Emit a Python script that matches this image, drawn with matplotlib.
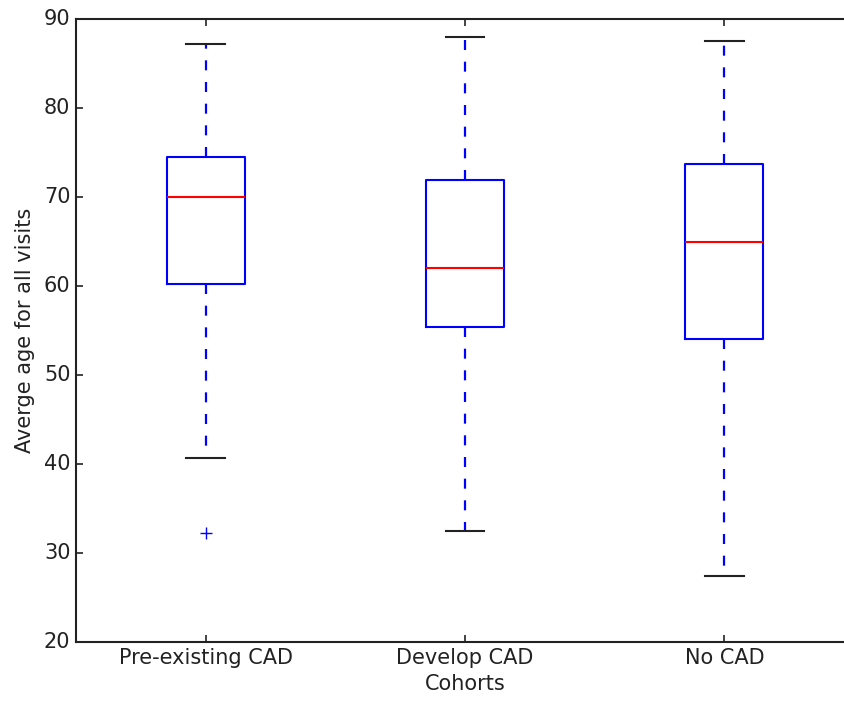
import matplotlib
matplotlib.use("Agg")
import matplotlib.pyplot as plt

plt.style.use('classic')
plt.rcParams['font.size'] = 15
plt.rcParams['text.color'] = '#222222'
plt.rcParams['axes.labelcolor'] = '#222222'
plt.rcParams['xtick.color'] = '#222222'
plt.rcParams['ytick.color'] = '#222222'
plt.rcParams['axes.edgecolor'] = '#222222'
plt.rcParams['axes.linewidth'] = 1.5
plt.rcParams['xtick.major.size'] = 5
plt.rcParams['ytick.major.size'] = 5
plt.rcParams['xtick.major.width'] = 1.2
plt.rcParams['ytick.major.width'] = 1.2
plt.rcParams['lines.scale_dashes'] = False

cohorts = ['Pre-existing CAD', 'Develop CAD', 'No CAD']
whislo = [40.7, 32.5, 27.4]
q1 = [60.2, 55.4, 54.1]
med = [70.0, 62.0, 65.0]
q3 = [74.5, 71.9, 73.7]
whishi = [87.2, 88.0, 87.5]
fliers = [[32.2], [], []]

stats = []
for i in range(len(cohorts)):
    stats.append({'label': cohorts[i], 'whislo': whislo[i], 'q1': q1[i],
                  'med': med[i], 'q3': q3[i], 'whishi': whishi[i],
                  'fliers': fliers[i]})

fig = plt.figure(figsize=(8.45, 7.02), dpi=100, facecolor='white')
ax = fig.add_axes([76/845, 60/702, 778/845, 623/702])
ax.bxp(stats, widths=0.3,
       boxprops=dict(color='blue', linewidth=1.5),
       whiskerprops=dict(color='blue', linestyle=(0, (7.2, 8.4)), linewidth=1.6),
       capprops=dict(color='#222222', linewidth=1.5),
       medianprops=dict(color='red', linewidth=1.5),
       flierprops=dict(marker='+', markeredgecolor='blue', markersize=9,
                       markeredgewidth=1.0, linestyle='none'))
ax.set_xlim(0.5, 3.5)
ax.set_ylim(20, 90)
# the original image is cut off on the right, so no right spine shows
ax.spines['right'].set_visible(False)
ax.tick_params(axis='y', right=False)
ax.set_xlabel('Cohorts')
ax.set_ylabel('Averge age for all visits', labelpad=6)

fig.savefig('out.png', dpi=100, facecolor='white')
